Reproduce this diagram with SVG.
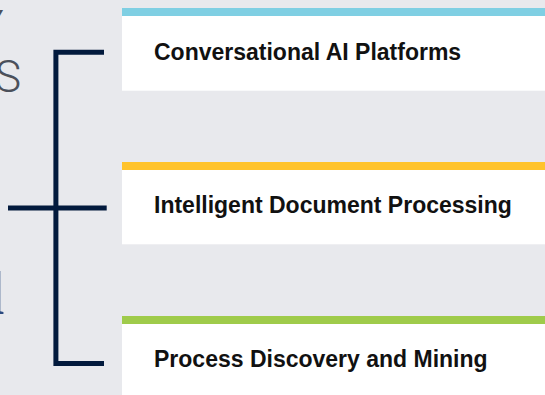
<svg xmlns="http://www.w3.org/2000/svg" width="545" height="395" viewBox="0 0 545 395">
  <style>
    .card { fill: #ffffff; }
    .label { font-family: "Liberation Sans", Arial, sans-serif; font-weight: 700; font-size: 23px; fill: #111111; }
    .wire { fill: none; stroke: #021a3d; stroke-width: 5; stroke-linejoin: miter; stroke-linecap: butt; }
    .heading { font-family: Roboto, "Liberation Sans", sans-serif; font-weight: 300; font-size: 44px; fill: #4b505b; }
    .heading-accent { font-family: "Liberation Serif", "Times New Roman", serif; font-weight: 700; font-size: 62px; fill: #2b4a80; }
  </style>

  <!-- page background -->
  <rect x="0" y="0" width="545" height="395" fill="#e8e9ed"/>

  <!-- heading text, running off the left edge -->
  <g id="heading">
    <text class="heading" x="3.5" y="42.3" text-anchor="end">Y</text>
    <text class="heading" x="21" y="91.5" text-anchor="end">S</text>
    <text class="heading-accent" x="-12.8" y="313.7">l</text>
  </g>

  <!-- bracket tying the heading to the three categories -->
  <g id="connectors">
    <path class="wire" d="M104 52.2 H55.9 V363.6 H104"/>
    <path class="wire" d="M8 208.1 H106.7"/>
  </g>

  <g id="node-conversational-ai">
    <rect x="122" y="8" width="423" height="8" fill="#7fcfe3"/>
    <rect class="card" x="122" y="16" width="423" height="74.7"/>
    <text class="label" x="154" y="59.5">Conversational AI Platforms</text>
  </g>

  <g id="node-document-processing">
    <rect x="122" y="162" width="423" height="8" fill="#ffc32b"/>
    <rect class="card" x="122" y="170" width="423" height="74.3"/>
    <text class="label" x="154" y="212.7">Intelligent Document Processing</text>
  </g>

  <g id="node-process-discovery">
    <rect x="122" y="316" width="423" height="8" fill="#9fcb4b"/>
    <rect class="card" x="122" y="324" width="423" height="71"/>
    <text class="label" x="154" y="366.5">Process Discovery and Mining</text>
  </g>
</svg>
